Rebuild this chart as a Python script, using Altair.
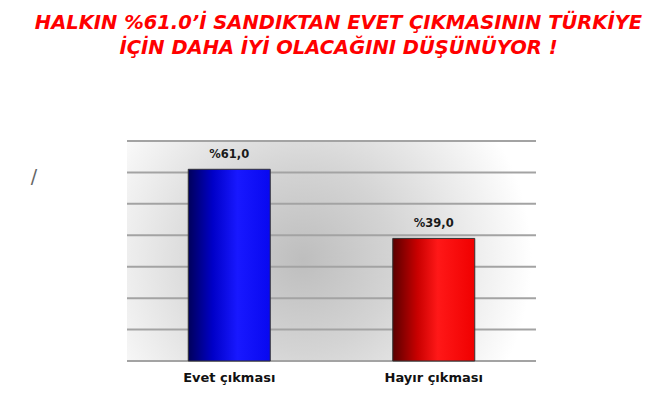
import altair as alt
import pandas as pd

categories = ["Evet çıkması", "Hayır çıkması"]
values = [61.0, 39.0]
labels = ["%61,0", "%39,0"]
title_lines = ["HALKIN %61.0’İ SANDIKTAN EVET ÇIKMASININ TÜRKİYE",
               "İÇİN DAHA İYİ OLACAĞINI DÜŞÜNÜYOR !"]
y_ticks = [0, 10, 20, 30, 40, 50, 60, 70]

df = pd.DataFrame({"cat": categories, "val": values, "lab": labels})
grid_df = pd.DataFrame({"t": y_ticks})
W, H = 409, 220

yscale = alt.Scale(domain=[0, 70], nice=False)
x = alt.X("cat:N", sort=categories, title=None,
          scale=alt.Scale(paddingInner=0.6, paddingOuter=0.3),
          axis=alt.Axis(labelAngle=0, ticks=False, domain=False, labelPadding=10,
                        labelFont="DejaVu Sans", labelFontWeight="bold",
                        labelFontSize=13, labelColor="#111111"))
y = alt.Y("val:Q", title=None, scale=yscale, axis=None)

bg = alt.Chart(pd.DataFrame({"k": [0]})).mark_rect(
    color=alt.Gradient(gradient="radial",
                       stops=[alt.GradientStop(color="#bebebe", offset=0),
                              alt.GradientStop(color="#d4d4d4", offset=0.4),
                              alt.GradientStop(color="#f4f4f4", offset=0.85),
                              alt.GradientStop(color="#ffffff", offset=1)],
                       x1=0.43, y1=0.52, r1=0, x2=0.43, y2=0.52, r2=0.56)
).encode(x=alt.value(0), x2=alt.value(W), y=alt.value(0), y2=alt.value(H))

grid = alt.Chart(grid_df).mark_rule(color="#a3a3a3", strokeWidth=2).encode(
    y=alt.Y("t:Q", scale=yscale, axis=None), x=alt.value(0), x2=alt.value(W))

blue = alt.Gradient(gradient="linear", x1=0, x2=1, y1=0, y2=0,
                    stops=[alt.GradientStop(color="#00005a", offset=0),
                           alt.GradientStop(color="#0000c8", offset=0.3),
                           alt.GradientStop(color="#1818ff", offset=0.6),
                           alt.GradientStop(color="#0808f0", offset=1)])
red = alt.Gradient(gradient="linear", x1=0, x2=1, y1=0, y2=0,
                   stops=[alt.GradientStop(color="#5a0000", offset=0),
                          alt.GradientStop(color="#c80000", offset=0.3),
                          alt.GradientStop(color="#ff1818", offset=0.55),
                          alt.GradientStop(color="#f00000", offset=1)])

base = alt.Chart(df).encode(x=x, y=y)
bar_b = base.transform_filter(alt.datum.cat == categories[0]).mark_bar(
    size=82, color=blue, stroke="#333333", strokeWidth=1)
bar_r = base.transform_filter(alt.datum.cat == categories[1]).mark_bar(
    size=82, color=red, stroke="#333333", strokeWidth=1)
txt = base.mark_text(dy=-9, baseline="bottom", font="DejaVu Sans",
                     fontWeight="bold", fontSize=11.5, color="#1a1a1a").encode(text="lab:N")

slash = alt.Chart(pd.DataFrame({"s": ["/"]})).mark_text(
    font="DejaVu Sans", fontSize=19, color="#666666", baseline="bottom"
).encode(text="s:N", x=alt.value(-93), y=alt.value(46))

chart = alt.layer(bg, grid, bar_b, bar_r, txt, slash).properties(
    width=W, height=H,
    autosize=alt.AutoSizeParams(type="none"),
    padding={"left": 119, "top": 133, "right": 125, "bottom": 46},
    title=alt.TitleParams(text=title_lines, color="#ff0000", font="DejaVu Sans",
                          fontSize=19.5, fontWeight="bold", fontStyle="italic",
                          lineHeight=25, anchor="middle", offset=82, dx=7),
).configure_view(stroke=None)

chart.save("out.html", embed_options={"renderer": "svg", "actions": False})
